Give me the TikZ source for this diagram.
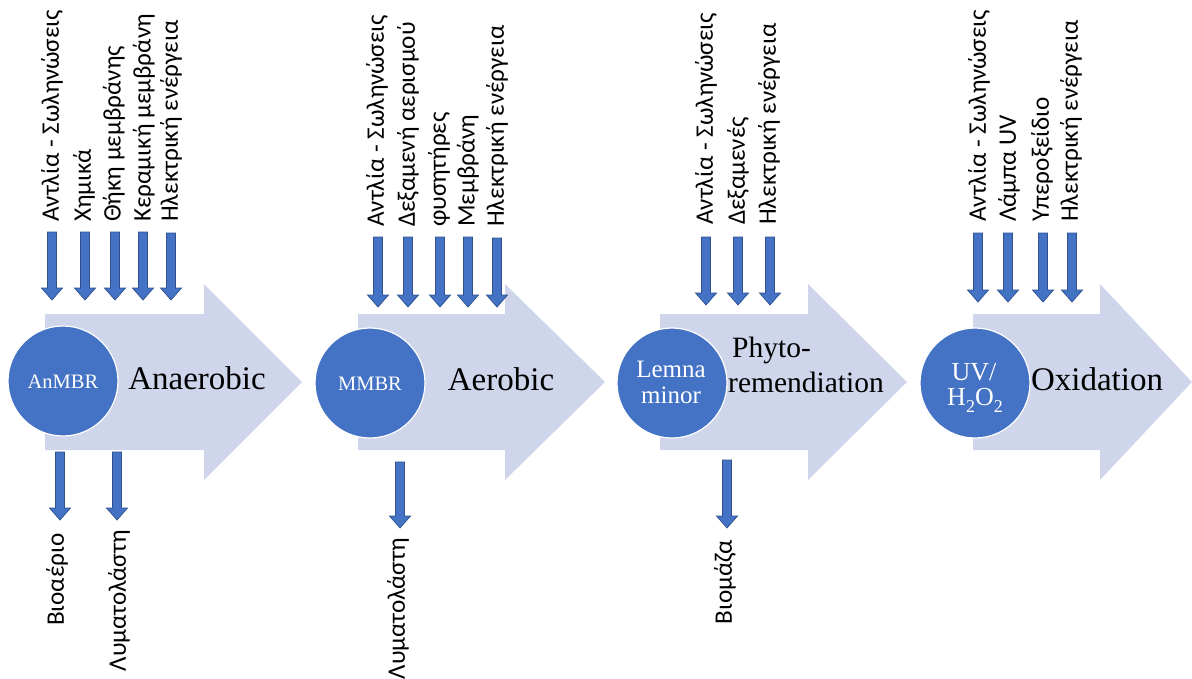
\documentclass[tikz,border=0pt]{standalone}
\usepackage{fontspec}
\setmainfont{Liberation Serif}
\newfontfamily\grk{Carlito}
\definecolor{bigarrowc}{HTML}{CFD5EA}
\definecolor{cblue}{HTML}{4472C4}
\definecolor{cedge}{HTML}{2F528F}
\newcommand\blockdown[3]{%
  \filldraw[fill=cblue,draw=cedge,line width=0.7pt,line join=miter]
    ({#1-4.5},#2) -- ({#1+4.5},#2) -- ({#1+4.5},{#3-12}) -- ({#1+10.5},{#3-12})
    -- (#1,#3) -- ({#1-10.5},{#3-12}) -- ({#1-4.5},{#3-12}) -- cycle;}
\newcommand\bigarrowshape[3]{%
  \fill[bigarrowc] (#1,314) -- (#2,314) -- (#2,284) -- (#3,382) -- (#2,480)
    -- (#2,450) -- (#1,450) -- cycle;}
\newcommand\subtwo{\raisebox{-0.28em}{\fontsize{18}{18}\selectfont 2}}
\tikzset{
  grklab/.style={font=\grk\fontsize{25.2}{28}\selectfont, rotate=90, inner sep=0pt},
  stage/.style={circle, fill=cblue, draw=white, line width=1.2pt, minimum size=110pt, inner sep=0pt},
  ctext/.style={text=white, inner sep=0pt, align=center},
  mainlab/.style={font=\fontsize{33}{36}\selectfont, inner sep=0pt, anchor=base}
}
\begin{document}
\begin{tikzpicture}[x=1pt,y=-1pt]
\useasboundingbox (0,0) rectangle (1192,678);
% big arrows
\bigarrowshape{45}{204}{302}
\bigarrowshape{358}{505}{605}
\bigarrowshape{660}{808}{907}
\bigarrowshape{973}{1100}{1192}
% circles
\node[stage] (c1) at (63,381) {};
\node[stage] (c2) at (370,383) {};
\node[stage] (c3) at (672,383) {};
\node[stage] (c4) at (975,383) {};
\node[ctext, font=\fontsize{20.5}{22}\selectfont, anchor=base] (c1t) at (63,388) {AnMBR};
\node[ctext, font=\fontsize{20.5}{22}\selectfont, anchor=base] (c2t) at (370,390) {MMBR};
\node[ctext, font=\fontsize{25}{26}\selectfont, anchor=base] (c3a) at (671,377) {Lemna};
\node[ctext, font=\fontsize{25}{26}\selectfont, anchor=base] (c3b) at (671,403) {minor};
\node[ctext, font=\fontsize{26}{27}\selectfont, anchor=base] (c4a) at (974,380) {UV/};
\node[ctext, font=\fontsize{26}{27}\selectfont, anchor=base] (c4b) at (975,405) {H\subtwo O\subtwo};
% main labels
\node[mainlab] (l1) at (197,389) {Anaerobic};
\node[mainlab] (l2) at (501,390) {Aerobic};
\node[mainlab, font=\fontsize{29.5}{32}\selectfont, anchor=base west] (l3a) at (732,357) {Phyto-};
\node[mainlab, font=\fontsize{29.5}{32}\selectfont, anchor=base west] (l3b) at (728,392) {remendiation};
\node[mainlab] (l4) at (1097,390) {Oxidation};
% top arrows group 1
\blockdown{52}{232}{300}
\blockdown{85}{232}{300}
\blockdown{115}{232}{300}
\blockdown{143}{232}{300}
\blockdown{171}{233}{300}
\node[grklab, anchor=west] (a11) at (52,222) {Αντλία - Σωληνώσεις};
\node[grklab, anchor=west] (a12) at (84,222) {Χημικά};
\node[grklab, anchor=west] (a13) at (114,222) {Θήκη μεμβράνης};
\node[grklab, anchor=west] (a14) at (144,222) {Κεραμική μεμβράνη};
\node[grklab, anchor=west] (a15) at (171,222) {Ηλεκτρική ενέργεια};
% bottom group 1
\blockdown{60}{452}{520}
\blockdown{117}{452}{520}
\node[grklab, anchor=east] (b11) at (57,533) {Βιοαέριο};
\node[grklab, anchor=east] (b12) at (119,530) {Λυματολάστη};
% top arrows group 2
\blockdown{378}{237}{307}
\blockdown{408}{237}{307}
\blockdown{440}{237}{307}
\blockdown{468}{237}{307}
\blockdown{497}{238}{307}
\node[grklab, anchor=west] (a21) at (377,227) {Αντλία - Σωληνώσεις};
\node[grklab, anchor=west] (a22) at (408,227) {Δεξαμενή αερισμού};
\node[grklab, anchor=west] (a23) at (439,227) {φυσητήρες};
\node[grklab, anchor=west] (a24) at (468,227) {Μεμβράνη};
\node[grklab, anchor=west] (a25) at (497,227) {Ηλεκτρική ενέργεια};
% bottom group 2
\blockdown{400}{462}{528}
\node[grklab, anchor=east] (b21) at (398,538) {Λυματολάστη};
% top arrows group 3
\blockdown{706}{237}{305}
\blockdown{738}{237}{305}
\blockdown{770}{237}{305}
\node[grklab, anchor=west] (a31) at (706,225) {Αντλία - Σωληνώσεις};
\node[grklab, anchor=west] (a32) at (738,225) {Δεξαμενές};
\node[grklab, anchor=west] (a33) at (769,225) {Ηλεκτρική ενέργεια};
% bottom group 3
\blockdown{727}{460}{528}
\node[grklab, anchor=east] (b31) at (725,540) {Βιομάζα};
% top arrows group 4
\blockdown{978}{233}{302}
\blockdown{1008}{233}{302}
\blockdown{1043}{233}{302}
\blockdown{1072}{233}{302}
\node[grklab, anchor=west] (a41) at (979,222) {Αντλία - Σωληνώσεις};
\node[grklab, anchor=west] (a42) at (1009,222) {Λάμπα UV};
\node[grklab, anchor=west] (a43) at (1042,222) {Υπεροξείδιο};
\node[grklab, anchor=west] (a44) at (1071,222) {Ηλεκτρική ενέργεια};
\end{tikzpicture}
\end{document}
